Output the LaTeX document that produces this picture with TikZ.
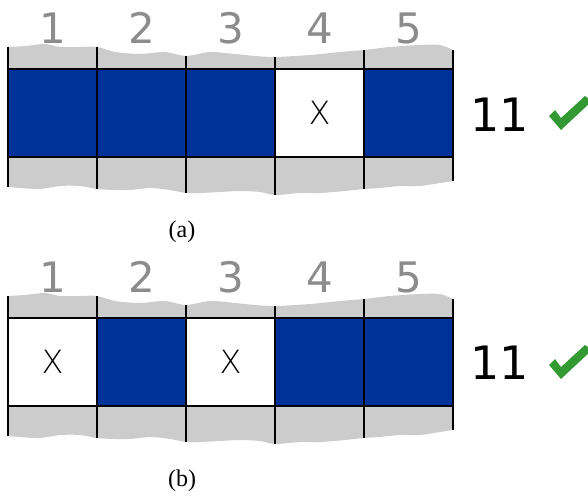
\documentclass[tikz,border=0pt]{standalone}
\usepackage{fontspec}
\setmainfont{Liberation Serif}
\newfontfamily\vfont{DejaVu Sans}
\newfontfamily\xfont{DejaVu Sans ExtraLight}
\definecolor{cellblue}{HTML}{003399}
\definecolor{stripgray}{HTML}{CCCCCC}
\definecolor{numgray}{HTML}{8C8C8C}
\definecolor{checkgreen}{HTML}{339933}
\tikzset{
  strip/.style={fill=stripgray},
  gridline/.style={line width=1.3pt, black},
  cellbox/.style={draw=black, line width=1.3pt, minimum width=89pt, minimum height=88pt, inner sep=0pt, font=\xfont\fontsize{32}{34}\selectfont, text=black},
  full/.style={cellbox, fill=cellblue},
  empty/.style={cellbox, fill=white},
  colnum/.style={font=\vfont\fontsize{42}{44}\selectfont, text=numgray, inner sep=0pt},
  score/.style={font=\vfont\fontsize{46}{48}\selectfont, text=black, inner sep=0pt},
  caption/.style={font=\fontsize{24}{26}\selectfont, inner sep=0pt},
  tick/.style={fill=checkgreen}
}
\begin{document}
\begin{tikzpicture}[x=1pt,y=-1pt]
\useasboundingbox (0,0) rectangle (588,497);
% ---------- panel (a) ----------
\fill[strip] plot[smooth] coordinates {(8,47) (25,46) (45,44) (60,47) (80,47) (97,47) (115,52) (140,54) (165,52) (186,56) (210,52) (235,54) (255,56) (275,57) (310,55) (340,52) (364,50) (390,47) (420,45) (440,45) (453,50)}
  -- plot[smooth] coordinates {(453,181) (440,183) (420,186) (400,186) (380,188) (364,189) (345,191) (320,193) (300,193) (275,195) (260,192) (240,191) (220,192) (200,193) (186,193) (170,190) (150,188) (130,190) (115,190) (97,189) (80,186) (60,186) (40,189) (20,188) (8,187)} -- cycle;
\draw[gridline] (8,47) -- (8,187);
\draw[gridline] (97,47) -- (97,189);
\draw[gridline] (186,56) -- (186,193);
\draw[gridline] (275,57) -- (275,195);
\draw[gridline] (364,50) -- (364,189);
\draw[gridline] (453,50) -- (453,181);
\node[full]  (a1) at (52.5,113) {};
\node[full]  (a2) at (141.5,113) {};
\node[full]  (a3) at (230.5,113) {};
\node[empty] (a4) at (319.5,113) {X};
\node[full]  (a5) at (408.5,113) {};
\node[colnum] (an1) at (52.5,28) {1};
\node[colnum] (an2) at (141.5,28) {2};
\node[colnum] (an3) at (230.5,28) {3};
\node[colnum] (an4) at (319.5,28) {4};
\node[colnum] (an5) at (408.5,28) {5};
\node[score] (as) at (500,115) {11};
\fill[tick] (549,116) -- (555,110) -- (561,118) -- (585,96) -- (592,101) -- (561,130) -- cycle;
\node[caption] (la) at (182,232) {(a)};
% ---------- panel (b) ----------
\begin{scope}[shift={(0,249)}]
\fill[strip] plot[smooth] coordinates {(8,47) (25,46) (45,44) (60,47) (80,47) (97,47) (115,52) (140,54) (165,52) (186,56) (210,52) (235,54) (255,56) (275,57) (310,55) (340,52) (364,50) (390,47) (420,45) (440,45) (453,50)}
  -- plot[smooth] coordinates {(453,181) (440,183) (420,186) (400,186) (380,188) (364,189) (345,191) (320,193) (300,193) (275,195) (260,192) (240,191) (220,192) (200,193) (186,193) (170,190) (150,188) (130,190) (115,190) (97,189) (80,186) (60,186) (40,189) (20,188) (8,187)} -- cycle;
\draw[gridline] (8,47) -- (8,187);
\draw[gridline] (97,47) -- (97,189);
\draw[gridline] (186,56) -- (186,193);
\draw[gridline] (275,57) -- (275,195);
\draw[gridline] (364,50) -- (364,189);
\draw[gridline] (453,50) -- (453,181);
\node[empty] (b1) at (52.5,113) {X};
\node[full]  (b2) at (141.5,113) {};
\node[empty] (b3) at (230.5,113) {X};
\node[full]  (b4) at (319.5,113) {};
\node[full]  (b5) at (408.5,113) {};
\node[colnum] (bn1) at (52.5,28) {1};
\node[colnum] (bn2) at (141.5,28) {2};
\node[colnum] (bn3) at (230.5,28) {3};
\node[colnum] (bn4) at (319.5,28) {4};
\node[colnum] (bn5) at (408.5,28) {5};
\node[score] (bs) at (500,114) {11};
\fill[tick] (549,116) -- (555,110) -- (561,118) -- (585,96) -- (592,101) -- (561,130) -- cycle;
\end{scope}
\node[caption] (lb) at (182,481) {(b)};
\end{tikzpicture}
\end{document}
